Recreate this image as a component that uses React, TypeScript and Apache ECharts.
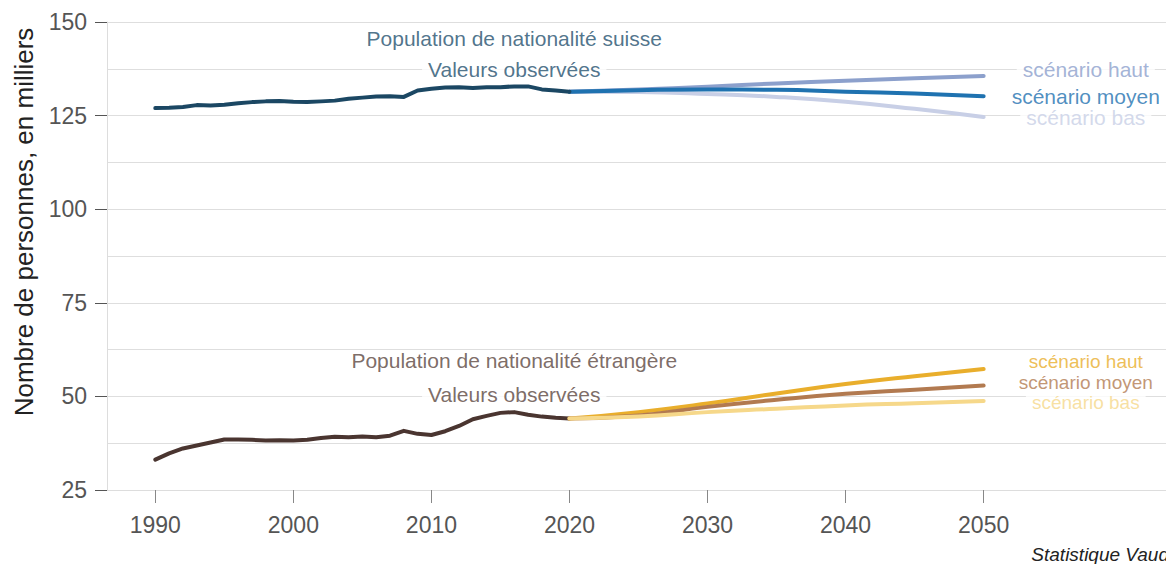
import React, { useEffect, useRef } from "react";
import * as echarts from "echarts";

const observedYears = [
  1990, 1991, 1992, 1993, 1994, 1995, 1996, 1997, 1998, 1999, 2000, 2001, 2002, 2003, 2004, 2005,
  2006, 2007, 2008, 2009, 2010, 2011, 2012, 2013, 2014, 2015, 2016, 2017, 2018, 2019, 2020,
];
const swissObserved = [
  127.0, 127.1, 127.3, 127.8, 127.7, 127.9, 128.3, 128.6, 128.8, 128.9, 128.7, 128.6, 128.8, 129.0,
  129.5, 129.8, 130.1, 130.2, 130.0, 131.7, 132.2, 132.5, 132.6, 132.4, 132.6, 132.6, 132.8, 132.8,
  132.0, 131.7, 131.4,
];
const foreignObserved = [
  33.1, 34.8, 36.1, 36.9, 37.7, 38.5, 38.5, 38.4, 38.2, 38.3, 38.2, 38.4, 38.9, 39.2, 39.1, 39.3,
  39.1, 39.5, 40.8, 40.0, 39.7, 40.7, 42.1, 43.9, 44.8, 45.6, 45.8, 45.1, 44.6, 44.3, 44.1,
];

const scenarioYears = [2020, 2025, 2030, 2035, 2040, 2045, 2050];
const swissHaut = [131.4, 132.0, 132.7, 133.6, 134.3, 135.0, 135.6];
const swissMoyen = [131.4, 131.8, 132.0, 131.9, 131.4, 130.9, 130.2];
const swissBas = [131.4, 131.3, 130.8, 130.0, 128.7, 126.8, 124.6];
const foreignHaut = [44.1, 45.8, 48.1, 50.8, 53.3, 55.4, 57.3];
const foreignMoyen = [44.1, 44.9, 47.2, 49.1, 50.7, 51.8, 52.9];
const foreignBas = [44.1, 44.6, 45.8, 46.7, 47.6, 48.2, 48.8];

const xTicks = [1990, 2000, 2010, 2020, 2030, 2040, 2050];

// annotations: [x, y, text, color, fontSize]
const annotations: [number, number, string, string, number][] = [
  [2016.0, 145.5, "Population de nationalité suisse", "#24506e", 21],
  [2016.0, 137.3, "Valeurs observées", "#24506e", 21],
  [2057.4, 137.4, "scénario haut", "#8ca0cc", 21],
  [2057.4, 130.2, "scénario moyen", "#1f72b0", 21],
  [2057.4, 124.4, "scénario bas", "#c8cfe6", 21],
  [2016.0, 59.5, "Population de nationalité étrangère", "#5b4640", 21],
  [2016.0, 50.6, "Valeurs observées", "#5b4640", 21],
  [2057.4, 59.4, "scénario haut", "#e9ae2c", 19],
  [2057.4, 53.8, "scénario moyen", "#b27a50", 19],
  [2057.4, 48.3, "scénario bas", "#f6d88a", 19],
];

const FONT = "'Liberation Sans', Arial, sans-serif";

function zip(xs: number[], ys: number[]) {
  return xs.map((x, i) => [x, ys[i]]);
}

function lineSeries(name: string, xs: number[], ys: number[], color: string, z: number, smooth: boolean) {
  return {
    name,
    type: "line",
    data: zip(xs, ys),
    showSymbol: false,
    symbol: "none",
    smooth: smooth ? 0.5 : false,
    z,
    lineStyle: { color, width: 4, cap: "round", join: "round" },
    emphasis: { disabled: true },
  };
}

export default function App() {
  const ref = useRef<HTMLDivElement>(null);
  useEffect(() => {
    if (!ref.current) return;
    const chart = echarts.init(ref.current, undefined, { renderer: "svg" });
    chart.setOption({
      animation: false,
      backgroundColor: "#ffffff",
      grid: { left: 107, right: 4, top: 22, bottom: 82, containLabel: false },
      xAxis: {
        type: "value",
        min: 1986.5,
        max: 2063.5,
        axisLine: { show: true, lineStyle: { color: "#dddddd", width: 1 } },
        axisTick: {
          show: true,
          customValues: xTicks,
          length: 13,
          lineStyle: { color: "#888888" },
        },
        axisLabel: {
          customValues: xTicks,
          formatter: (v: number) => String(v),
          margin: 23,
          fontSize: 23,
          color: "#555555",
          fontFamily: FONT,
        },
        splitLine: { show: false },
      },
      yAxis: {
        type: "value",
        min: 25,
        max: 150,
        interval: 25,
        name: "Nombre de personnes, en milliers",
        nameLocation: "middle",
        nameGap: 70,
        nameTextStyle: {
          fontSize: 26,
          color: "#222222",
          fontFamily: FONT,
          padding: [0, 0, 0, 68],
        },
        axisLine: { show: true, lineStyle: { color: "#dddddd" } },
        axisTick: { show: true, length: 12, lineStyle: { color: "#555555" } },
        axisLabel: { fontSize: 23, color: "#555555", margin: 20, fontFamily: FONT },
        splitLine: { show: true, lineStyle: { color: "#dedede", width: 1 } },
        minorTick: { show: false, splitNumber: 2 },
        minorSplitLine: { show: true, lineStyle: { color: "#dedede", width: 1 } },
      },
      series: [
        lineSeries("suisse bas", scenarioYears, swissBas, "#c8cfe6", 2, true),
        lineSeries("suisse haut", scenarioYears, swissHaut, "#8ca0cc", 3, true),
        lineSeries("suisse moyen", scenarioYears, swissMoyen, "#1f72b0", 4, true),
        lineSeries("suisse observé", observedYears, swissObserved, "#1b4763", 5, false),
        lineSeries("étrangère haut", scenarioYears, foreignHaut, "#e9ae2c", 3, true),
        lineSeries("étrangère moyen", scenarioYears, foreignMoyen, "#b27a50", 4, true),
        lineSeries("étrangère bas", scenarioYears, foreignBas, "#f6d88a", 5, true),
        lineSeries("étrangère observé", observedYears, foreignObserved, "#4a3530", 2, false),
        {
          type: "scatter",
          symbolSize: 0,
          z: 10,
          silent: true,
          data: annotations.map((a) => ({
            value: [a[0], a[1]],
            label: {
              show: true,
              position: "inside",
              formatter: a[2],
              color: a[3],
              fontSize: a[4],
              lineHeight: a[4] - 3,
              fontFamily: FONT,
              backgroundColor: "#ffffff",
              padding: [0, 6],
            },
          })),
        },
      ],
      graphic: [
        {
          type: "text",
          right: 5,
          top: 545,
          style: {
            text: "Statistique Vaud",
            fontSize: 19,
            fontStyle: "italic",
            fill: "#222222",
            fontFamily: FONT,
          },
        },
      ],
    });
    return () => chart.dispose();
  }, []);
  return <div ref={ref} style={{ width: 1174, height: 572, margin: -8 }} />;
}
